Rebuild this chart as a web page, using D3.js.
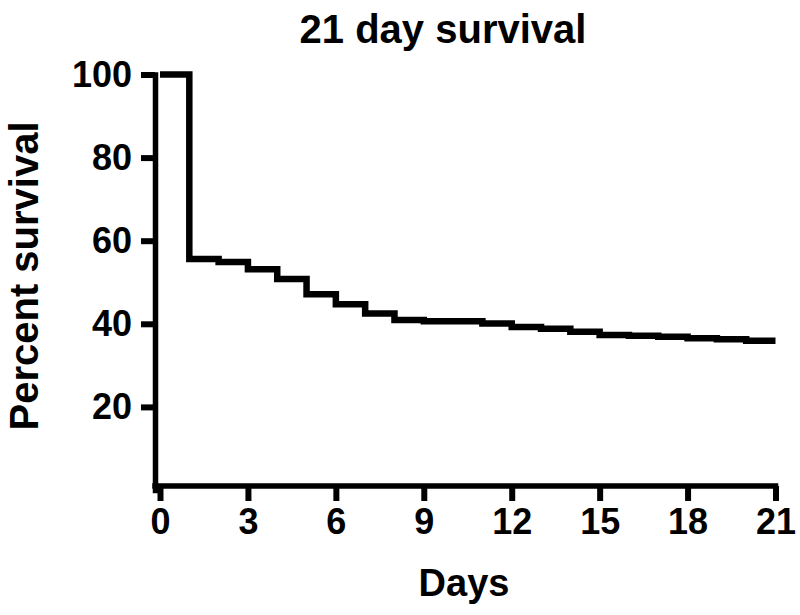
<!DOCTYPE html>
<html>
<head>
<meta charset="utf-8">
<script src="https://cdn.jsdelivr.net/npm/d3@7"></script>
<style>
  body { margin: 0; background: #fff; }
  text { font-family: "Liberation Sans", Arial, sans-serif; font-weight: bold; fill: #000; }
</style>
</head>
<body>
<svg id="chart"></svg>
<script>
const width = 800;
const height = 615;

// Kaplan-Meier steps: day at which the level starts, percent surviving
const stepDays = [0, 1, 2, 3, 4, 5, 6, 7, 8, 9, 11, 12, 13, 14, 15, 16, 17, 18, 19, 20];
const stepValues = [100, 55.6, 54.9, 53.1, 50.8, 47.1, 44.7, 42.5, 40.9, 40.6, 40.1, 39.2, 38.8, 38.1, 37.3, 37.1, 36.9, 36.5, 36.3, 35.9];
const lastDay = 21;

const xTicks = [0, 3, 6, 9, 12, 15, 18, 21];
const yTicks = [20, 40, 60, 80, 100];

const svg = d3.select('#chart')
    .attr('width', width)
    .attr('height', height);

const xScale = d3.scaleLinear()
    .domain([0, 21])
    .range([160, 775.5]);

const yScale = d3.scaleLinear()
    .domain([0, 100])
    .range([490, 74.5]);

// axes
const xAxis = d3.axisBottom(xScale)
    .tickValues(xTicks)
    .tickSizeInner(15)
    .tickSizeOuter(0)
    .tickPadding(7);

const yAxis = d3.axisLeft(yScale)
    .tickValues(yTicks)
    .tickSizeInner(14)
    .tickSizeOuter(0)
    .tickPadding(9);

const gx = svg.append('g')
    .attr('transform', 'translate(0,486)')
    .call(xAxis);

const gy = svg.append('g')
    .attr('transform', 'translate(155,0)')
    .call(yAxis);

[gx, gy].forEach(g => {
    g.select('.domain')
        .attr('stroke', '#000')
        .attr('stroke-width', 5.5)
        .attr('stroke-linecap', 'square');
    g.selectAll('.tick line')
        .attr('stroke', '#000')
        .attr('stroke-width', 6);
    g.selectAll('.tick text')
        .style('font-size', '36px');
});
gx.select('.domain').attr('d', `M${155},0H${xScale(21)}`);

// survival curve
const steps = stepDays.map((d, i) => ({ day: d, value: stepValues[i] }));
steps.push({ day: lastDay, value: stepValues[stepValues.length - 1] });

const line = d3.line()
    .x(d => xScale(d.day))
    .y(d => yScale(d.value))
    .curve(d3.curveStepAfter);

svg.append('path')
    .datum(steps)
    .attr('fill', 'none')
    .attr('stroke', '#000')
    .attr('stroke-width', 6.5)
    .attr('d', line);

// titles
svg.append('text')
    .attr('x', 443)
    .attr('y', 43)
    .attr('text-anchor', 'middle')
    .style('font-size', '40px')
    .text('21 day survival');

svg.append('text')
    .attr('x', 464)
    .attr('y', 596)
    .attr('text-anchor', 'middle')
    .style('font-size', '38px')
    .text('Days');

svg.append('text')
    .attr('transform', 'translate(38,276) rotate(-90)')
    .attr('text-anchor', 'middle')
    .style('font-size', '40px')
    .text('Percent survival');
</script>
</body>
</html>
